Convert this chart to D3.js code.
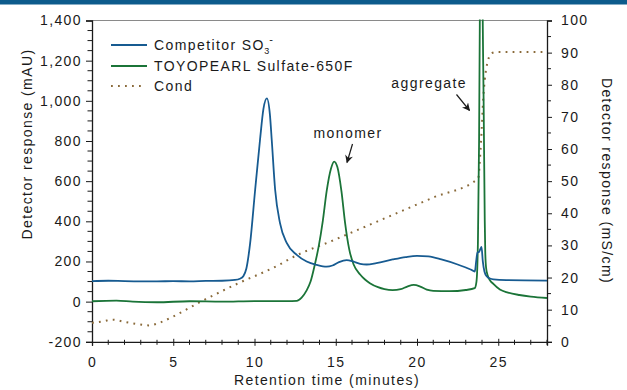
<!DOCTYPE html>
<html>
<head>
<meta charset="utf-8">
<script src="https://cdn.jsdelivr.net/npm/d3@7"></script>
<style>
  html, body { margin: 0; padding: 0; background: #fff; }
  svg { display: block; }
  text { font-family: "Liberation Sans", Arial, sans-serif; font-size: 14px; letter-spacing: 1.4px; fill: #1a1a1a; }
</style>
</head>
<body>
<svg id="chart" width="627" height="390"></svg>
<script>
// Retention time (min) and UV absorbance (mAU) for the competitor SO3- resin
const competitorSeries = [
  [0, 102], [1, 104], [2, 102], [3, 101], [4, 101], [5, 102], [6, 101], [7, 103],
  [8, 104], [8.8, 108], [9.1, 114], [9.32, 128], [9.5, 165], [9.73, 290],
  [10.04, 557], [10.34, 806], [10.55, 960], [10.76, 1012], [10.95, 930],
  [11.06, 806], [11.27, 557], [11.57, 391], [11.99, 291], [12.6, 233],
  [13.21, 200], [13.83, 183], [14.44, 174], [14.8, 180], [15.2, 197],
  [15.67, 207], [16.1, 199], [16.5, 188], [16.9, 185], [17.5, 192],
  [18.5, 210], [19.3, 222], [20.0, 228], [20.7, 225], [21.5, 210],
  [22.5, 185], [23.3, 160], [23.56, 150], [23.64, 200], [23.72, 244],
  [23.82, 248], [23.9, 262], [23.97, 272], [24.05, 200], [24.15, 150],
  [24.3, 125], [24.5, 115], [24.7, 111], [25.5, 107], [28, 105]
];

// TOYOPEARL Sulfate-650F, UV absorbance (mAU)
const sulfateSeries = [
  [0, 2], [1.5, 5], [2.5, 0], [4, -3], [6, 2], [8, 0], [10, 3], [12, 3],
  [12.6, 4], [12.9, 20], [13.2, 55], [13.45, 100], [13.7, 180], [13.95, 275],
  [14.2, 400], [14.45, 555], [14.7, 660], [14.9, 697], [15.1, 670],
  [15.35, 550], [15.57, 395], [15.83, 260], [16.1, 185], [16.5, 135],
  [16.8, 110], [17.1, 92], [17.6, 72], [18.0, 62], [18.5, 57], [19.0, 62],
  [19.4, 75], [19.8, 83], [20.2, 75], [20.6, 60], [21.0, 54], [22.0, 52],
  [23.0, 58], [23.55, 67], [23.66, 100], [23.75, 300], [23.82, 800],
  [23.88, 1600], [23.95, 2600], [24.02, 1600], [24.1, 1000], [24.17, 400],
  [24.2, 250], [24.25, 170], [24.35, 130], [24.48, 108], [24.7, 88],
  [25.1, 60], [25.6, 45], [26.3, 33], [27, 25], [28, 18]
];

// Conductivity (mS/cm)
const condSeries = [
  [0, 5.9], [0.7, 6.4], [1.3, 6.9], [2.0, 6.2], [2.8, 5.5], [3.5, 5.1],
  [4.2, 6.0], [5, 7.9], [6.66, 12.4], [9, 18.2], [11.57, 24.1], [12.2, 25.9],
  [15, 31.9], [18, 38.4], [21, 44.9], [23.76, 50.8], [23.91, 59.7],
  [23.97, 65.0], [24.07, 75.2], [24.17, 81.5], [24.38, 87.7], [24.58, 89.8],
  [24.9, 90.2], [25.5, 90.2], [28, 90.2]
];

const xTicks = [0, 5, 10, 15, 20, 25];
const leftTicks = [-200, 0, 200, 400, 600, 800, 1000, 1200, 1400];
const rightTicks = [0, 10, 20, 30, 40, 50, 60, 70, 80, 90, 100];

const legendLabels = ["Competitor SO", "TOYOPEARL Sulfate-650F", "Cond"];
const annotations = [
  { label: "monomer", t: 14.9, v: 697 },
  { label: "aggregate", t: 23.95, v: 1400 }
];

const colors = { competitor: "#175b91", sulfate: "#1b7438", cond: "#8a6a3a" };

const svg = d3.select("#chart");
const L = 92, R = 547, T = 20.5, B = 341.8;

const x = d3.scaleLinear().domain([0, 28]).range([L, R]);
const yL = d3.scaleLinear().domain([-200, 1400]).range([B, T]);
const yR = d3.scaleLinear().domain([0, 100]).range([B, T]);

// header band
svg.append("rect").attr("x", 0).attr("y", 0).attr("width", 627).attr("height", 4.5).attr("fill", "#0d5b8c");

svg.append("defs").append("clipPath").attr("id", "plotClip")
  .append("rect").attr("x", L).attr("y", T - 1).attr("width", R - L).attr("height", B - T + 1);

svg.select("defs").append("marker")
  .attr("id", "arrowHead").attr("viewBox", "0 0 10 10").attr("refX", 9).attr("refY", 5)
  .attr("markerWidth", 9).attr("markerHeight", 8).attr("markerUnits", "userSpaceOnUse")
  .attr("orient", "auto")
  .append("path").attr("d", "M0,0 L10,5 L0,10 L3,5 Z").attr("fill", "#1a1a1a");

// top frame line
svg.append("line").attr("x1", L).attr("x2", R).attr("y1", T).attr("y2", T)
  .attr("stroke", "#8a8a8a").attr("stroke-width", 1.2);

// axes
const axisStyle = g => {
  g.selectAll(".domain").attr("stroke", "#1a1a1a").attr("stroke-width", 1.3);
  g.selectAll(".tick line").attr("stroke", "#1a1a1a").attr("stroke-width", 1);
  g.selectAll("text").attr("font-size", null).attr("font-family", null).attr("fill", "#1a1a1a");
};

// thousands separator with a plain hyphen for negatives
const fmtLeft = v => (v < 0 ? "-" : "") + d3.format(",")(Math.abs(v));

// minor ticks
const minorLeft = d3.range(-200, 1401, 50).filter(v => v % 200 !== 0);
const minorRight = d3.range(0, 101, 5).filter(v => v % 10 !== 0);
const minorX = d3.range(0, 29, 1).filter(v => v % 5 !== 0);

const gL = svg.append("g").attr("transform", `translate(${L},0)`)
  .call(d3.axisLeft(yL).tickValues(leftTicks).tickFormat(fmtLeft).tickSize(6).tickPadding(4));
gL.call(axisStyle);
gL.selectAll(".minor").data(minorLeft).enter().append("line")
  .attr("x1", -4.5).attr("x2", 0).attr("y1", d => yL(d)).attr("y2", d => yL(d))
  .attr("stroke", "#1a1a1a");

const gR = svg.append("g").attr("transform", `translate(${R},0)`)
  .call(d3.axisRight(yR).tickValues(rightTicks).tickSize(5).tickPadding(9));
gR.call(axisStyle);
gR.selectAll(".minor").data(minorRight).enter().append("line")
  .attr("x1", 0).attr("x2", 4).attr("y1", d => yR(d)).attr("y2", d => yR(d))
  .attr("stroke", "#1a1a1a");

const gX = svg.append("g").attr("transform", `translate(0,${B})`)
  .call(d3.axisBottom(x).tickValues(xTicks).tickSize(4).tickPadding(11));
gX.call(axisStyle);
gX.selectAll(".tick line").attr("y1", -3);
gX.selectAll(".minor").data(minorX).enter().append("line")
  .attr("x1", d => x(d)).attr("x2", d => x(d)).attr("y1", -2).attr("y2", 3)
  .attr("stroke", "#1a1a1a");

// series
const plot = svg.append("g").attr("clip-path", "url(#plotClip)");
const lineL = d3.line().x(d => x(d[0])).y(d => yL(d[1])).curve(d3.curveMonotoneX);
const lineR = d3.line().x(d => x(d[0])).y(d => yR(d[1])).curve(d3.curveMonotoneX);

plot.append("path").datum(condSeries).attr("d", lineR)
  .attr("fill", "none").attr("stroke", colors.cond).attr("stroke-width", 2)
  .attr("stroke-dasharray", "1.8,5.2");
plot.append("path").datum(sulfateSeries).attr("d", lineL)
  .attr("fill", "none").attr("stroke", colors.sulfate).attr("stroke-width", 1.8);
plot.append("path").datum(competitorSeries).attr("d", lineL)
  .attr("fill", "none").attr("stroke", colors.competitor).attr("stroke-width", 1.8);

// axis titles
svg.append("text").attr("transform", "translate(27,144) rotate(-90)")
  .attr("text-anchor", "middle").attr("dominant-baseline", "central")
  .text("Detector response (mAU)");
svg.append("text").attr("transform", "translate(607,181) rotate(90)")
  .attr("text-anchor", "middle").attr("dominant-baseline", "central")
  .text("Detector response (mS/cm)");
svg.append("text").attr("x", 327).attr("y", 384.5).attr("text-anchor", "middle")
  .text("Retention time (minutes)");

// legend
const legend = svg.append("g");
const legendRows = [
  { y: 45, color: colors.competitor, dash: null },
  { y: 66, color: colors.sulfate, dash: null },
  { y: 86, color: colors.cond, dash: "1.8,5.2" }
];
legendRows.forEach((row, i) => {
  legend.append("line").attr("x1", 111).attr("x2", i === 2 ? 145 : 147)
    .attr("y1", row.y).attr("y2", row.y)
    .attr("stroke", row.color).attr("stroke-width", i === 2 ? 2 : 1.8)
    .attr("stroke-dasharray", row.dash);
  const t = legend.append("text").attr("x", 154).attr("y", row.y + 5).text(legendLabels[i]);
  if (i === 0) {
    t.append("tspan").attr("font-size", "9px").attr("dy", 4).attr("dx", -0.5).text("3");
    t.append("tspan").attr("font-size", "11px").attr("dy", -11).attr("dx", -1.5).text("-");
  }
});

// peak annotations
svg.append("text").attr("x", 348).attr("y", 138.3).attr("text-anchor", "middle").text(annotations[0].label);
svg.append("line").attr("x1", 352.5).attr("y1", 144).attr("x2", 347).attr("y2", 162.5)
  .attr("stroke", "#1a1a1a").attr("stroke-width", 1.2).attr("marker-end", "url(#arrowHead)");
svg.append("text").attr("x", 467).attr("y", 87.5).attr("text-anchor", "end").text(annotations[1].label);
svg.append("line").attr("x1", 456.5).attr("y1", 94.5).attr("x2", 469.5).attr("y2", 110.5)
  .attr("stroke", "#1a1a1a").attr("stroke-width", 1.2).attr("marker-end", "url(#arrowHead)");
</script>
</body>
</html>
